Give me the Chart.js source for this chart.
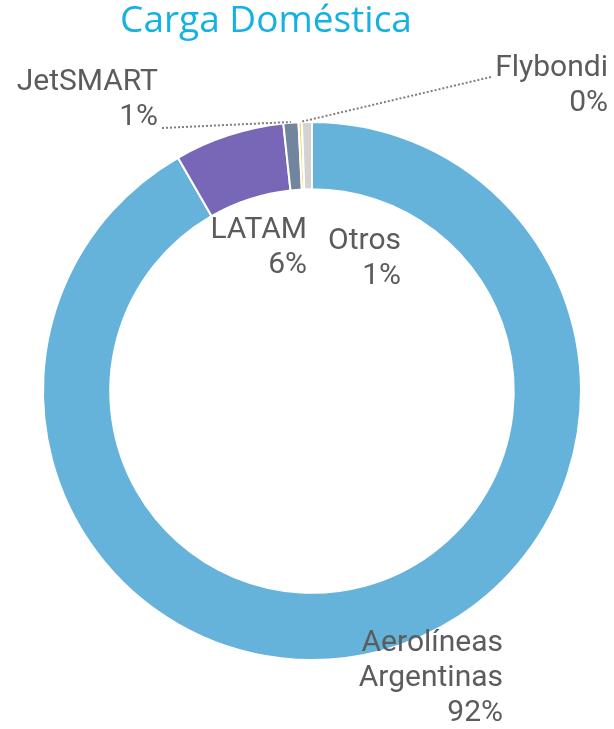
<!DOCTYPE html>
<html>
<head>
<meta charset="utf-8">
<script src="https://cdn.jsdelivr.net/npm/chart.js@4"></script>
<style>
  html, body { margin: 0; padding: 0; background: #fff; }
  #wrap { width: 614px; height: 729px; position: relative; }
</style>
</head>
<body>
<div id="wrap"><canvas id="chart"></canvas></div>
<script>
// data
const airlines = ['Aerolíneas Argentinas', 'LATAM', 'JetSMART', 'Flybondi', 'Otros'];
const shares = [91.7, 6.6, 0.9, 0.2, 0.6];
const shownPct = ['92%', '6%', '1%', '0%', '1%'];
const sliceColors = ['#65b3db', '#7866b6', '#71869d', '#ffd25c', '#d2d2d2'];

// label layout (text lines, anchor x/y of right edge, optional leader line)
const labelLayout = [
  { lines: ['Aerolíneas', 'Argentinas'], x: 503, y: 643 },
  { lines: ['LATAM'], x: 307, y: 230 },
  { lines: ['JetSMART'], x: 158, y: 82, leader: { fromX: 162, fromY: 128, toY: 122 } },
  { lines: ['Flybondi'], x: 608, y: 68, leader: { fromX: 491, fromY: 77, toY: 122 } },
  { lines: ['Otros'], x: 401, y: 241 }
];

const labelPlugin = {
  id: 'sliceLabels',
  afterDraw(chart) {
    const ctx = chart.ctx;
    const meta = chart.getDatasetMeta(0);
    ctx.save();
    // title
    ctx.font = '37px "Open Sans", sans-serif';
    ctx.fillStyle = '#14b1e3';
    ctx.textAlign = 'center';
    ctx.textBaseline = 'middle';
    ctx.fillText('Carga Doméstica', 266, 21);

    ctx.font = '30px Roboto, sans-serif';
    ctx.fillStyle = '#5c5c5c';
    ctx.textAlign = 'right';
    labelLayout.forEach((lab, i) => {
      const lines = lab.lines.concat([shownPct[i]]);
      lines.forEach((t, k) => ctx.fillText(t, lab.x, lab.y + k * 35));
      if (lab.leader) {
        const arc = meta.data[i];
        const mid = (arc.startAngle + arc.endAngle) / 2;
        const tx = arc.x + Math.cos(mid) * arc.outerRadius;
        ctx.beginPath();
        ctx.setLineDash([2, 2]);
        ctx.strokeStyle = '#7f7f7f';
        ctx.lineWidth = 2;
        ctx.moveTo(lab.leader.fromX, lab.leader.fromY);
        ctx.lineTo(tx, lab.leader.toY);
        ctx.stroke();
        ctx.setLineDash([]);
      }
    });
    ctx.restore();
  }
};

new Chart(document.getElementById('chart'), {
  type: 'doughnut',
  data: {
    labels: airlines,
    datasets: [{
      data: shares,
      backgroundColor: sliceColors,
      borderColor: '#ffffff',
      borderWidth: 2
    }]
  },
  options: {
    responsive: true,
    maintainAspectRatio: false,
    animation: false,
    cutout: '75%',
    rotation: 0,
    layout: { padding: { left: 42, right: 32, top: 121, bottom: 68 } },
    plugins: {
      legend: { display: false },
      tooltip: { enabled: false },
      title: { display: false }
    }
  },
  plugins: [labelPlugin]
});
</script>
</body>
</html>
